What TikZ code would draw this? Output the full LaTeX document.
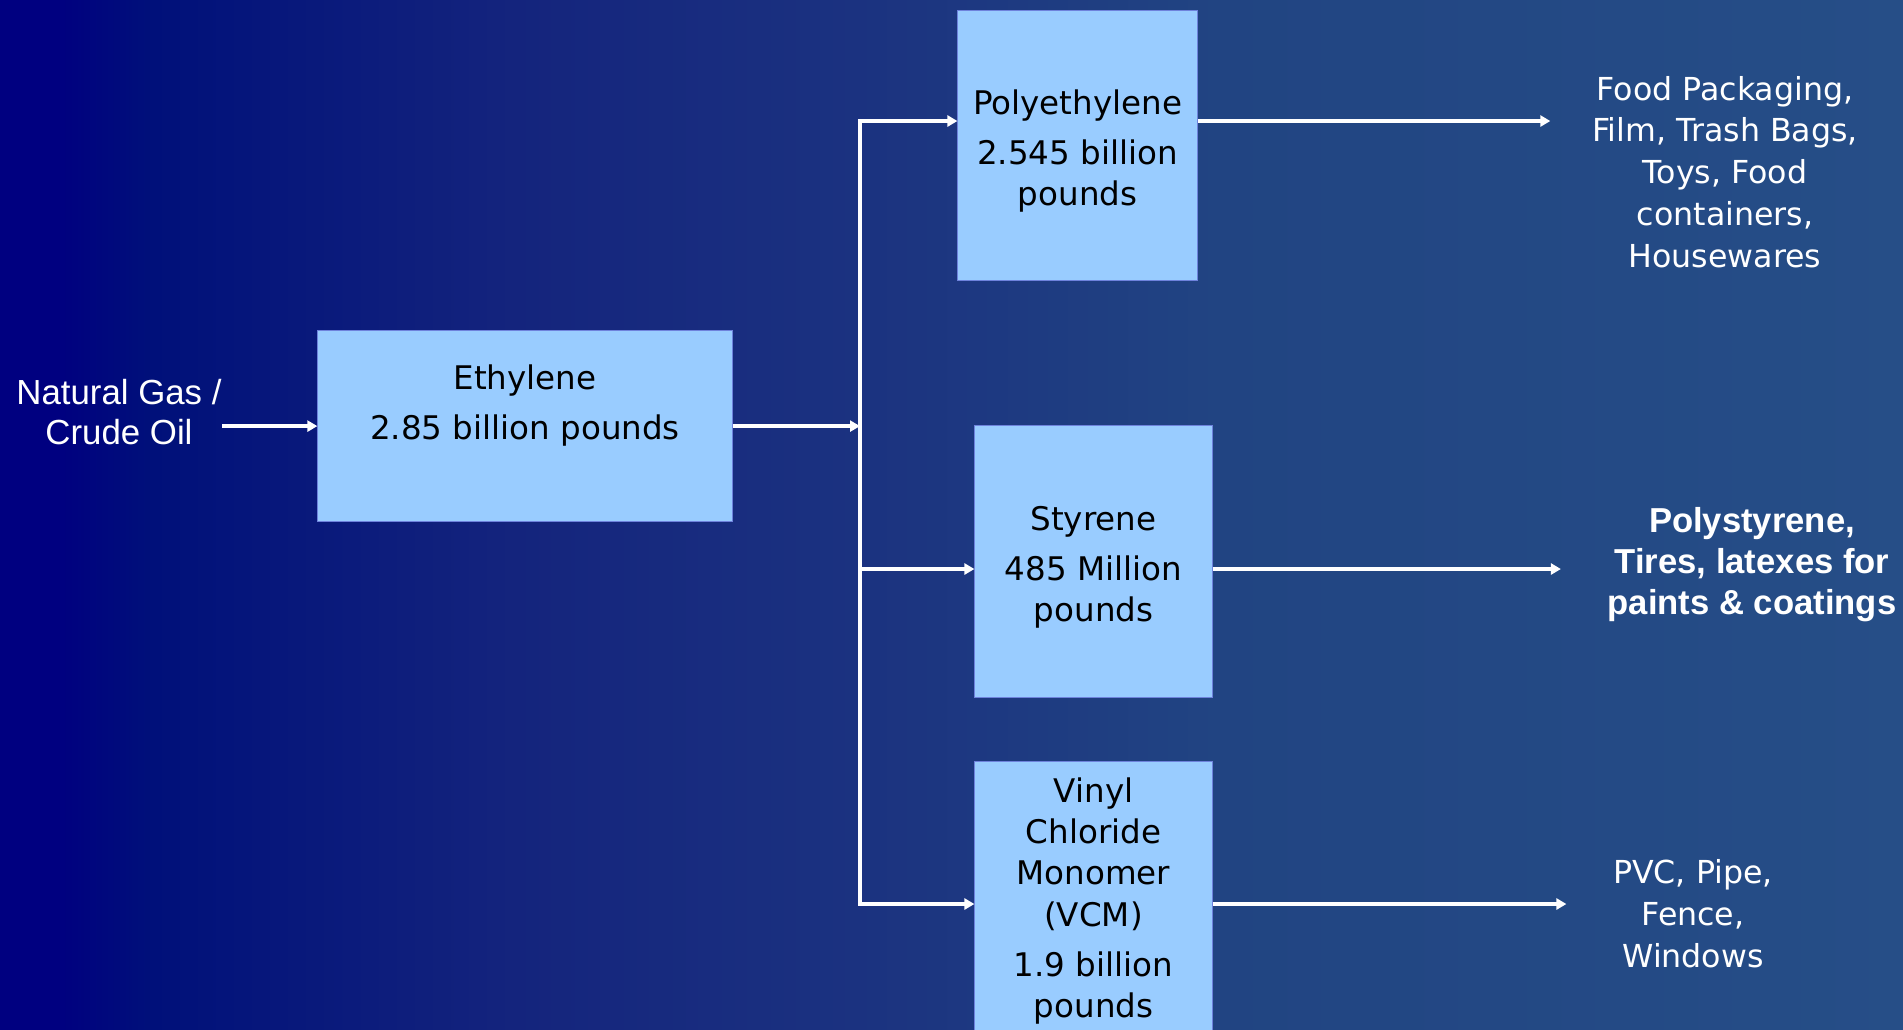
\documentclass[tikz,border=0pt]{standalone}
\usepackage{fontspec}
\setmainfont{DejaVu Sans}
\newfontfamily\arialfont{Liberation Sans}
\usetikzlibrary{arrows.meta}
\definecolor{bgnavy}{RGB}{0,0,128}
\definecolor{bgdeep}{RGB}{0,16,122}
\definecolor{bgmid}{RGB}{20,36,125}
\definecolor{bgblue}{RGB}{27,50,128}
\definecolor{bglight}{RGB}{33,68,130}
\definecolor{bgright}{RGB}{38,78,135}
\definecolor{boxblue}{RGB}{153,204,255}
\definecolor{boxline}{RGB}{110,130,220}
\pgfdeclarehorizontalshading{slide}{100bp}{color(0bp)=(bgnavy); color(26.5bp)=(bgnavy); color(29bp)=(bgdeep); color(38.5bp)=(bgmid); color(47.5bp)=(bgblue); color(57bp)=(bglight); color(75bp)=(bgright); color(100bp)=(bgright)}

\begin{document}
\begin{tikzpicture}[x=0.01cm, y=-0.01cm,
    chem/.style={draw=boxline, line width=0.3pt, fill=boxblue, align=center, inner sep=0pt,
        font=\fontsize{9.25}{11.67}\selectfont},
    feed/.style={text=white, align=center, inner sep=0pt, font=\arialfont\fontsize{9.9}{11.4}\selectfont},
    enduse/.style={text=white, align=center, inner sep=0pt, font=\fontsize{9}{11.9}\selectfont},
    flow/.style={white, line width=0.035cm},
    >={Triangle[length=0.1cm, width=0.11cm]}]
\useasboundingbox (0,0) rectangle (1903,1029);
\clip (0,0) rectangle (1903,1029);
\shade[shading=slide] (0,0) rectangle (1903,1029);

% boxes
\node[chem, anchor=north] (eth) at (525,330) {\parbox[c][1.91cm][t]{4.14cm}{\centering\vspace*{0.34cm}Ethylene\\[2.56pt]2.85 billion pounds}};
\node[chem, minimum width=2.39cm, minimum height=2.69cm] (poly) at (1077.5,145.5) {\rule{0pt}{0.35cm}Polyethylene\\[2.56pt]2.545 billion\\pounds};
\node[chem, minimum width=2.37cm, minimum height=2.71cm] (sty) at (1093.5,561.5) {\rule{0pt}{0.35cm}Styrene\\[2.56pt]485 Million\\pounds};
\node[chem, minimum width=2.37cm, minimum height=2.78cm] (vcm) at (1093.5,901) {Vinyl\\Chloride\\Monomer\\(VCM)\\[2.56pt]1.9 billion\\pounds};

% texts
\node[feed] (src) at (119,412) {Natural Gas /\\Crude Oil};
\node[enduse] (food) at (1725,172) {Food Packaging,\\Film, Trash Bags,\\Toys, Food\\containers,\\Housewares};
\node[enduse, font=\arialfont\bfseries\fontsize{9.85}{11.67}\selectfont] (tires) at (1752,565) {Polystyrene,\\Tires, latexes for\\paints \& coatings};
\node[enduse] (pvc) at (1693,914) {PVC, Pipe,\\Fence,\\Windows};

% connectors
\coordinate (top) at (860,121);
\coordinate (stj) at (860,569);
\coordinate (bot) at (860,904);
\draw[flow,->] (src.east |- eth.west) -- (eth.west);
\draw[flow,->] (eth.east) -- (eth.east -| top);
\draw[flow,<->] (bot -| vcm.west) -- (bot) -- (top) -- (top -| poly.west);
\draw[flow,->] (stj) -- (stj -| sty.west);
\draw[flow,->,shorten >=0.41cm] (top -| poly.east) -- (top -| food.west);
\draw[flow,->,shorten >=0.46cm] (stj -| sty.east) -- (stj -| tires.west);
\draw[flow,->,shorten >=0.46cm] (bot -| vcm.east) -- (bot -| pvc.west);
\end{tikzpicture}
\end{document}
